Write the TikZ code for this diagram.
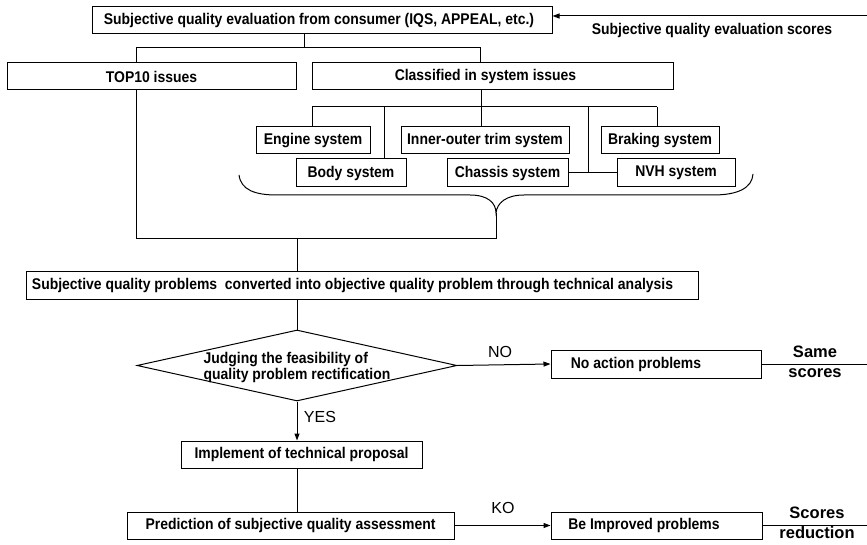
\documentclass[tikz,border=0pt]{standalone}
\usepackage{fontspec}
\setmainfont{Liberation Sans}[FakeStretch=0.9]
\newfontfamily\plainfont{Liberation Sans}
\usetikzlibrary{arrows.meta,shapes.geometric}
\newcommand{\boxfont}{\fontsize{15.5}{16}\selectfont\bfseries}
\tikzset{
  box/.style={draw, line width=1pt, rectangle, inner sep=0pt, minimum height=27pt, font=\boxfont},
  ln/.style={line width=1pt},
  arr/.style={ln, -{Triangle[length=7pt,width=5pt]}},
  lbl/.style={inner sep=0pt, font=\plainfont\fontsize{16}{16}\selectfont},
  blbl/.style={inner sep=0pt, align=center, font=\plainfont\fontsize{16.5}{20}\selectfont\bfseries},
}
\begin{document}
\begin{tikzpicture}[x=1pt,y=-1pt]
\useasboundingbox (0,0) rectangle (867,545);
% boxes
\node[box, minimum width=460pt] (top) at (322,20.5) {\hspace*{-6pt}Subjective quality evaluation from consumer (IQS, APPEAL, etc.)};
\node[inner sep=0pt, font=\boxfont] (scl) at (712,30) {Subjective quality evaluation scores};
\node[box, minimum width=289pt] (top10) at (151.5,76.5) {TOP10 issues};
\node[box, minimum width=361pt] (cls) at (492.5,76.5) {\hspace*{-14pt}Classified in system issues};
\node[box, minimum width=114pt] (engine) at (313,140.5) {Engine system};
\node[box, minimum width=168pt] (inner) at (485,140.5) {Inner-outer trim system};
\node[box, minimum width=118pt] (braking) at (660,140.5) {Braking system};
\node[box, minimum width=110pt, minimum height=28pt] (body) at (351,173) {Body system};
\node[box, minimum width=121pt, minimum height=28pt] (chassis) at (507.5,173) {Chassis system};
\node[box, minimum width=118pt, minimum height=28pt] (nvh) at (676,173) {NVH system};
\node[box, minimum width=672pt] (big) at (362,285.5) {\hspace*{-19pt}Subjective quality problems\ \ converted into objective quality problem through technical analysis};
\node[draw, line width=1pt, diamond, aspect=4.5, inner sep=0pt, minimum width=320pt, minimum height=71pt] (judge) at (297,365.5) {};
\node[inner sep=0pt, align=left, font=\boxfont] (judgetext) at (297,367.5) {Judging the feasibility of\\quality problem rectification};
\node[box, minimum width=210pt, minimum height=28pt] (noact) at (656,364) {\hspace*{-40pt}No action problems};
\node[box, minimum width=241pt] (impl) at (301.5,454.5) {Implement of technical proposal};
\node[box, minimum width=327pt] (pred) at (290.5,525.5) {Prediction of subjective quality assessment};
\node[box, minimum width=211pt] (impr) at (656.5,525.5) {\hspace*{-25pt}Be Improved problems};
% labels
\node[lbl] (no) at (500,352) {NO};
\node[lbl] (yes) at (320,417) {YES};
\node[lbl] (ko) at (503,508) {KO};
\node[blbl] (same) at (815,362) {Same\\scores};
\node[blbl] (red) at (817,523) {Scores\\reduction};
% coordinates
\coordinate (rin) at (867,16);
\coordinate (b0) at (304,48);
\coordinate (b1) at (136,48);
\coordinate (b2) at (480,48);
\coordinate (c0) at (481,107);
\coordinate (c1) at (312,107);
\coordinate (c2) at (384,107);
\coordinate (c4) at (588,107);
\coordinate (c5) at (657,107);
\coordinate (tip) at (496,213);
\coordinate (k0) at (297,239);
\coordinate (k1) at (136,239);
\coordinate (k2) at (496,239);
\coordinate (out1) at (867,363);
\coordinate (out2) at (867,523);
% connectors
\draw[arr] (rin) -- (rin -| top.east);
\draw[ln] (b0 |- top.south) -- (b0);
\draw[ln] (b1 |- top10.north) -- (b1) -- (b2) -- (b2 |- cls.north);
\draw[ln] (c0 |- cls.south) -- (c0);
\draw[ln] (c1) -- (c5);
\draw[ln] (c1) -- (c1 |- engine.north);
\draw[ln] (c2) -- (c2 |- body.north);
\draw[ln] (c0) -- (c0 |- inner.north);
\draw[ln] (c4) -- (c4 |- chassis.east);
\draw[ln] (c5) -- (c5 |- braking.north);
\draw[ln] (chassis.east) -- (nvh.west);
% brace
\draw[ln] (239,175) .. controls (241,190) and (255,195) .. (277,195) -- (470,195)
  .. controls (488,195) and (496,203) .. (tip)
  .. controls (497,203) and (506,195) .. (524,195) -- (713,195)
  .. controls (738,195) and (752,188) .. (753,174);
\draw[ln] (k1 |- top10.south) -- (k1) -- (k2) -- (tip);
\draw[ln] (k0) -- (k0 |- big.north);
\draw[ln] (judge.north |- big.south) -- (judge.north);
\draw[arr] (judge.east) -- (noact.west);
\draw[ln] (noact.east) -- (noact.east -| out1);
\draw[arr] (judge.south) -- (judge.south |- impl.north);
\draw[ln] (judge.south |- impl.south) -- (judge.south |- pred.north);
\draw[arr] (pred.east) -- (impr.west);
\draw[ln] (impr.east) -- (impr.east -| out2);
\end{tikzpicture}
\end{document}
